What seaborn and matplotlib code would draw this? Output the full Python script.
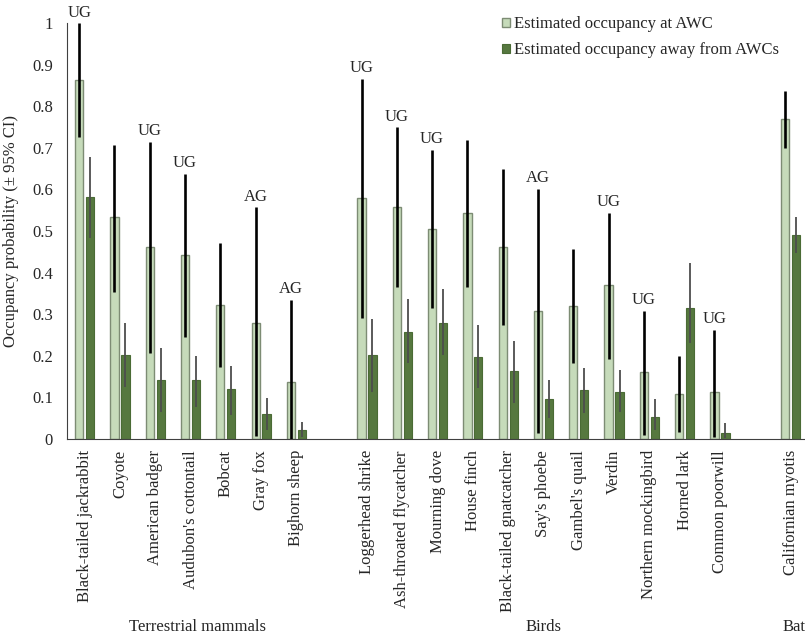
import pandas as pd
import matplotlib
matplotlib.use('Agg')
import matplotlib.pyplot as plt
import seaborn as sns

# Species per group (empty slots keep the gaps between groups)
mammals = ['Black-tailed jackrabbit', 'Coyote', 'American badger', "Audubon's cottontail",
           'Bobcat', 'Gray fox', 'Bighorn sheep']
birds = ['Loggerhead shrike', 'Ash-throated flycatcher', 'Mourning dove', 'House finch',
         'Black-tailed gnatcatcher', "Say's phoebe", "Gambel's quail", 'Verdin',
         'Northern mockingbird', 'Horned lark', 'Common poorwill']
bats = ['Californian myotis']
species = mammals + birds + bats
order = mammals + [' '] + birds + ['  '] + bats

series_names = ['Estimated occupancy at AWC', 'Estimated occupancy away from AWCs']

# Occupancy at AWC with 95% CI
awc = [0.863, 0.533, 0.462, 0.442, 0.322, 0.280, 0.138,
       0.580, 0.558, 0.506, 0.544, 0.462, 0.308, 0.320, 0.370, 0.161, 0.107, 0.114,
       0.769]
awc_lo = [0.725, 0.354, 0.207, 0.246, 0.172, 0.007, 0.000,
          0.292, 0.366, 0.316, 0.366, 0.274, 0.014, 0.182, 0.192, 0.010, 0.018, 0.006,
          0.700]
awc_hi = [0.999, 0.707, 0.715, 0.637, 0.470, 0.557, 0.334,
          0.865, 0.749, 0.695, 0.719, 0.648, 0.601, 0.456, 0.544, 0.308, 0.200, 0.262,
          0.837]

# Occupancy away from AWCs with 95% CI
away = [0.581, 0.202, 0.142, 0.142, 0.119, 0.060, 0.022,
        0.202, 0.258, 0.280, 0.198, 0.163, 0.095, 0.118, 0.114, 0.052, 0.314, 0.015,
        0.490]
away_lo = [0.482, 0.126, 0.066, 0.078, 0.058, 0.022, 0.005,
           0.114, 0.182, 0.202, 0.122, 0.086, 0.050, 0.062, 0.066, 0.022, 0.230, 0.002,
           0.446]
away_hi = [0.679, 0.280, 0.219, 0.200, 0.175, 0.099, 0.040,
           0.288, 0.336, 0.360, 0.274, 0.236, 0.142, 0.170, 0.166, 0.095, 0.422, 0.039,
           0.534]

# UG / AG marks above the AWC bars
marks = {'Black-tailed jackrabbit': 'UG', 'American badger': 'UG', "Audubon's cottontail": 'UG',
         'Gray fox': 'AG', 'Bighorn sheep': 'AG', 'Loggerhead shrike': 'UG',
         'Ash-throated flycatcher': 'UG', 'Mourning dove': 'UG', "Say's phoebe": 'AG',
         'Verdin': 'UG', 'Northern mockingbird': 'UG', 'Common poorwill': 'UG'}

groups = ['Terrestrial mammals', 'Birds', 'Bat']
yticks = [0, 0.1, 0.2, 0.3, 0.4, 0.5, 0.6, 0.7, 0.8, 0.9, 1]
ytick_labels = ['0', '0.1', '0.2', '0.3', '0.4', '0.5', '0.6', '0.7', '0.8', '0.9', '1']

light = '#c5e0b4'
dark = '#548235'

df = pd.DataFrame({
    'species': species * 2,
    'series': [series_names[0]] * len(species) + [series_names[1]] * len(species),
    'value': awc + away,
    'lo': awc_lo + away_lo,
    'hi': awc_hi + away_hi,
})

sns.set_style('white')
plt.rcParams['font.family'] = ['Liberation Serif', 'DejaVu Serif']
plt.rcParams['font.size'] = 12

fig = plt.figure(figsize=(8.05, 6.39), dpi=100)
ax = fig.add_axes([67 / 805, 200 / 639, 738 / 805, 416 / 639])

sns.barplot(data=df, x='species', y='value', hue='series', order=order,
            hue_order=series_names, palette=[light, dark], width=0.62, gap=0.25,
            errorbar=None, ax=ax, legend=False)

# style bars and draw the CIs
for ci, cont in enumerate(ax.containers):
    sub = df[df['series'] == series_names[ci]].reset_index(drop=True)
    bars = sorted(cont.patches, key=lambda b: b.get_x())
    for bar, (_, row) in zip(bars, sub.iterrows()):
        xc = bar.get_x() + bar.get_width() / 2
        if ci == 0:
            bar.set_edgecolor('#7d8c74')
            bar.set_linewidth(1.0)
            ax.vlines(xc, row['lo'], row['hi'], color='black', lw=1.9, zorder=4)
            if row['species'] in marks:
                ax.annotate(marks[row['species']], (xc, row['hi']), xytext=(0, 2),
                            textcoords='offset points', ha='center', va='bottom',
                            fontsize=12, annotation_clip=False)
        else:
            bar.set_edgecolor('#4a6b35')
            bar.set_linewidth(0.8)
            ax.vlines(xc, row['lo'], row['hi'], color='#4d4d4d', lw=1.3, zorder=4)

ax.set_xlim(-0.5, 20.41)
ax.set_ylim(0, 1)
ax.set_yticks(yticks)
ax.set_yticklabels(ytick_labels)
ax.tick_params(axis='both', length=0, labelsize=12)
ax.tick_params(axis='y', pad=10)
ax.tick_params(axis='x', pad=8)
ax.set_xticks(range(len(order)))
ax.set_xticklabels(order, rotation=90, va='top', ha='center')
ax.set_xlabel('')
ax.set_ylabel('Occupancy probability (± 95% CI)', fontsize=12)
ax.yaxis.set_label_coords(-0.065, 0.5)

for s in ['top', 'right']:
    ax.spines[s].set_visible(False)
for s in ['left', 'bottom']:
    ax.spines[s].set_color('#404040')
    ax.spines[s].set_linewidth(0.8)

# group labels under the species names
gy = -0.452
ax.text(3.2, gy, groups[0], transform=ax.get_xaxis_transform(), ha='center', va='center', fontsize=12)
ax.text(13.0, gy, groups[1], transform=ax.get_xaxis_transform(), ha='center', va='center', fontsize=12)
ax.text(19.78, gy, groups[2], transform=ax.get_xaxis_transform(), ha='left', va='center', fontsize=12)

ax.legend(handles=[ax.containers[0], ax.containers[1]], labels=series_names,
          loc='upper left', bbox_to_anchor=(502 / 805, 1 - 16 / 639),
          bbox_transform=fig.transFigure, frameon=False, fontsize=12,
          handlelength=0.45, handleheight=0.45, handletextpad=0.25,
          labelspacing=0.6, borderpad=0, borderaxespad=0)

fig.savefig('out.png', dpi=100)
